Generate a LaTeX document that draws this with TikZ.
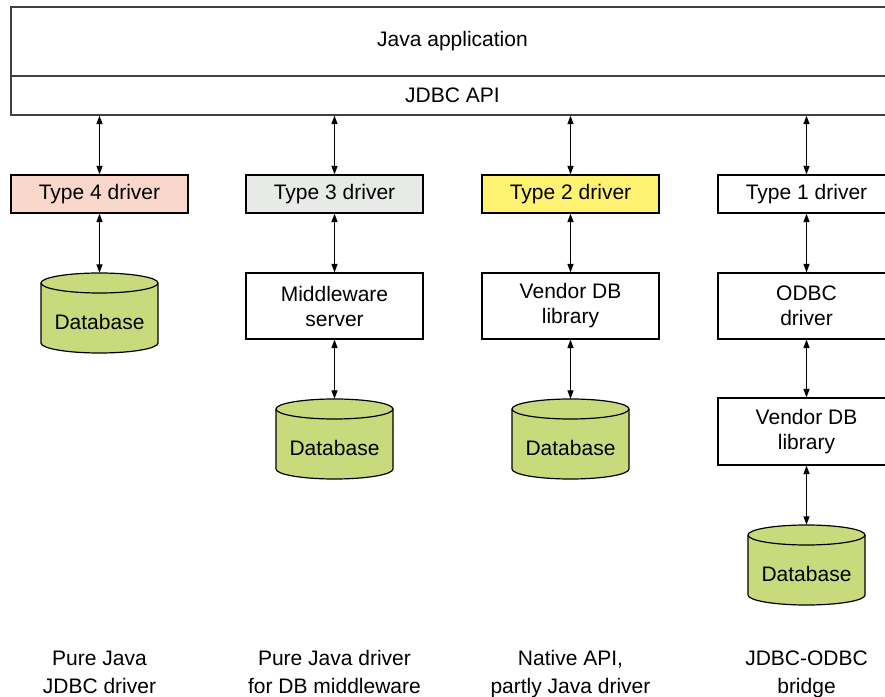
\documentclass[tikz,border=0pt]{standalone}
\usepackage{fontspec}
\setmainfont{Liberation Sans}
\usetikzlibrary{arrows.meta}
\definecolor{tfour}{RGB}{249,216,203}
\definecolor{tthree}{RGB}{232,234,232}
\definecolor{ttwo}{RGB}{255,242,112}
\definecolor{dbgreen}{RGB}{200,218,124}
\newcommand{\dbcyl}[2]{% center x, top y
  \filldraw[fill=dbgreen, draw=black, line width=1.2pt]
    ({#1-58.5},{#2-10}) -- ({#1-58.5},{#2-70})
    arc[start angle=180, end angle=360, x radius=58.5, y radius=10]
    -- ({#1+58.5},{#2-10})
    arc[start angle=0, end angle=180, x radius=58.5, y radius=10] -- cycle;
  \draw[line width=1.2pt] ({#1-58.5},{#2-10})
    arc[start angle=180, end angle=360, x radius=58.5, y radius=10];
}
\begin{document}
\begin{tikzpicture}[x=1pt,y=1pt,
  box/.style={draw=black, line width=1.2pt, fill=white, minimum width=177pt,
    inner sep=0pt, align=center, font=\fontsize{21}{25}\selectfont},
  drv/.style={box, minimum height=38pt},
  midbox/.style={box, minimum height=66pt},
  topbox/.style={draw=black!75, line width=1.4pt, fill=white, minimum width=883pt,
    inner sep=0pt, font=\fontsize{21}{25}\selectfont},
  dbnode/.style={minimum width=117pt, minimum height=98pt, inner sep=0pt,
    font=\fontsize{21}{25}\selectfont},
  lbl/.style={align=center, anchor=base, font=\fontsize{21}{28}\selectfont},
  link/.style={{Triangle[length=8.5pt,width=6pt]}-{Triangle[length=8.5pt,width=6pt]},
    line width=1.3pt}]
\clip (0,0) rectangle (885,696);
\fill[white] (0,0) rectangle (885,696);

% top layers
\node[topbox, minimum height=69pt] (app) at (452.5,654.5) {Java application};
\node[topbox, minimum height=39pt] (api) at (452.5,600.5) {JDBC API};

% drivers
\node[drv, fill=tfour]  (t4) at (99.5,502) {Type 4 driver};
\node[drv, fill=tthree] (t3) at (334.5,502) {Type 3 driver};
\node[drv, fill=ttwo]   (t2) at (570.5,502) {Type 2 driver};
\node[drv]              (t1) at (806.5,502) {Type 1 driver};

% middle boxes
\node[midbox] (mw)   at (334.5,390) {Middleware\\server};
\node[midbox] (vdb2) at (570.5,390) {Vendor DB\\library};
\node[midbox] (odbc) at (806.5,390) {ODBC\\driver};
\node[box, minimum height=67pt] (vdb1) at (806.5,264.5) {Vendor DB\\library};

% databases
\dbcyl{99.5}{423}
\node[dbnode] (db4) at (99.5,374) {Database};
\dbcyl{334.5}{297}
\node[dbnode] (db3) at (334.5,248) {Database};
\dbcyl{570.5}{297}
\node[dbnode] (db2) at (570.5,248) {Database};
\dbcyl{806.5}{171}
\node[dbnode] (db1) at (806.5,122) {Database};

% connectors
\draw[link] (t4.north |- api.south) -- (t4.north);
\draw[link] (t3.north |- api.south) -- (t3.north);
\draw[link] (t2.north |- api.south) -- (t2.north);
\draw[link] (t1.north |- api.south) -- (t1.north);
\draw[link] (t4.south) -- (db4.north);
\draw[link] (t3.south) -- (mw.north);
\draw[link] (mw.south) -- (db3.north);
\draw[link] (t2.south) -- (vdb2.north);
\draw[link] (vdb2.south) -- (db2.north);
\draw[link] (t1.south) -- (odbc.north);
\draw[link] (odbc.south) -- (vdb1.north);
\draw[link] (vdb1.south) -- (db1.north);

% bottom labels
\node[lbl] (l4) at (99.5,3) {Pure Java\\JDBC driver};
\node[lbl] (l3) at (334.5,3) {Pure Java driver\\for DB middleware};
\node[lbl] (l2) at (570.5,3) {Native API,\\partly Java driver};
\node[lbl] (l1) at (806.5,3) {JDBC-ODBC\\bridge};
\end{tikzpicture}
\end{document}
